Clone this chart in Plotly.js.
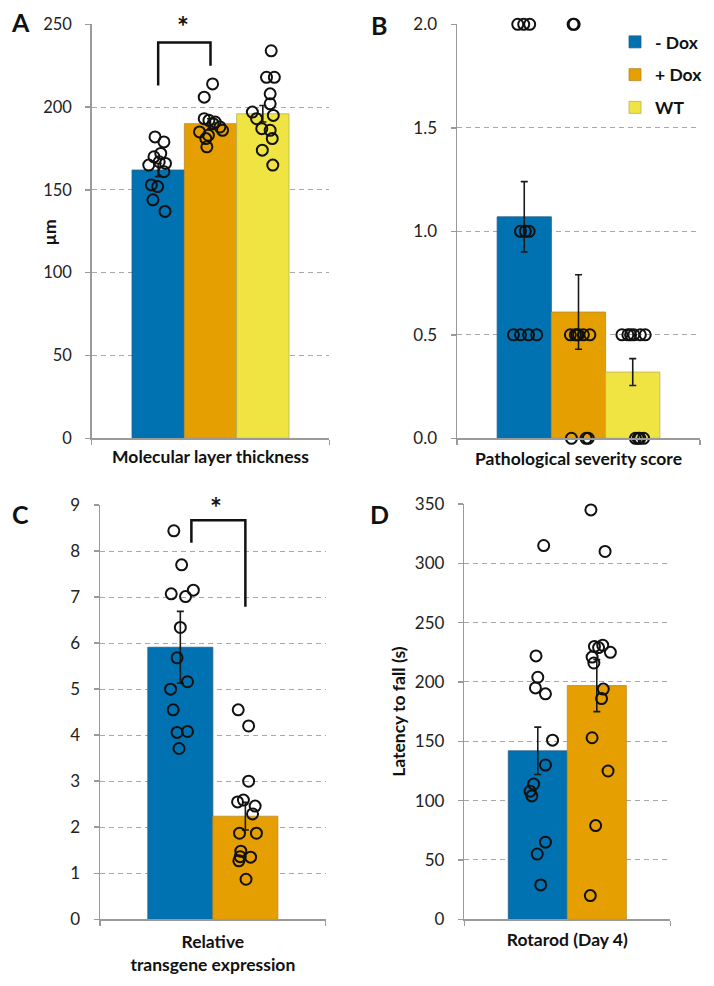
<!DOCTYPE html>
<html>
<head>
<meta charset="utf-8">
<script src="https://cdn.plot.ly/plotly-3.0.1.min.js"></script>
<style>html,body{margin:0;padding:0;background:#fff;}#chart{width:714px;height:986px;}</style>
</head>
<body>
<div id="chart"></div>
<script>
// ---------- DATA ----------
const groupNames = ['- Dox', '+ Dox', 'WT'];

// Panel A: Molecular layer thickness (µm)
const molMeans = [162, 190, 196];
const molErr = [4, 3, 5];
const molBlue = [182, 179, 172, 170, 167, 165, 166, 161, 153, 152, 144, 137];
const molBlueJit = [-0.06, 0.11, 0.05, -0.08, 0.02, -0.18, 0.14, 0.11, -0.13, -0.01, -0.10, 0.13];
const molOrange = [214, 206, 193, 192, 191, 190, 188, 186, 185, 183, 181, 176];
const molOrangeJit = [0.04, -0.12, -0.12, -0.03, 0.09, 0.05, 0.18, 0.23, -0.21, -0.04, -0.09, -0.07];
const molWT = [234, 218, 218, 208, 202, 197, 193, 195, 187, 186, 181, 174, 165];
const molWTJit = [0.16, 0.07, 0.22, 0.14, 0.14, -0.20, -0.12, 0.20, -0.02, 0.14, 0.18, -0.01, 0.19];
const molTicks = [0, 50, 100, 150, 200, 250];

// Panel B: Pathological severity score
const sevMeans = [1.07, 0.61, 0.32];
const sevErr = [0.17, 0.18, 0.065];
const sevBlue = [2, 2, 2, 1, 1, 1, 0.5, 0.5, 0.5, 0.5];
const sevBlueJit = [-0.12, -0.01, 0.10, -0.07, 0.02, 0.09, -0.20, -0.07, 0.08, 0.23];
const sevOrange = [2, 2, 0.5, 0.5, 0.5, 0.5, 0.5, 0.5, 0, 0, 0];
const sevOrangeJit = [-0.10, -0.08, -0.15, -0.06, -0.03, 0.00, 0.09, 0.21, -0.13, 0.14, 0.18];
const sevWT = [0.5, 0.5, 0.5, 0.5, 0.5, 0.5, 0, 0, 0, 0];
const sevWTJit = [-0.20, -0.09, -0.04, 0.02, 0.14, 0.23, 0.05, 0.10, 0.13, 0.20];
const sevTicks = [0, 0.5, 1.0, 1.5, 2.0];

// Panel C: Relative transgene expression
const exprMeans = [5.91, 2.24];
const exprErr = [0.78, 0.30];
const exprBlue = [8.44, 7.70, 7.07, 7.01, 7.15, 6.34, 5.68, 5.16, 5.00, 4.55, 4.06, 4.08, 3.71];
const exprBlueJit = [-0.10, 0.02, -0.14, 0.08, 0.20, 0.00, -0.05, 0.11, -0.15, -0.11, -0.05, 0.11, -0.02];
const exprOrange = [4.55, 4.20, 3.00, 2.55, 2.59, 2.46, 2.29, 1.87, 1.87, 1.48, 1.36, 1.35, 1.27, 0.87];
const exprOrangeJit = [-0.11, 0.05, 0.05, -0.12, -0.03, 0.15, 0.11, -0.09, 0.17, -0.07, -0.08, 0.08, -0.10, 0.01];
const exprTicks = [0, 1, 2, 3, 4, 5, 6, 7, 8, 9];

// Panel D: Rotarod (Day 4), latency to fall (s)
const rotMeans = [142, 197];
const rotErr = [20, 22];
const rotBlue = [315, 222, 204, 195, 190, 151, 130, 114, 108, 104, 65, 55, 29];
const rotBlueJit = [0.10, -0.03, 0.00, -0.04, 0.13, 0.25, 0.13, -0.07, -0.13, -0.10, 0.13, -0.01, 0.05];
const rotOrange = [345, 310, 231, 230, 229, 225, 221, 216, 194, 186, 153, 125, 79, 20];
const rotOrangeJit = [-0.10, 0.14, 0.10, -0.04, 0.03, 0.23, -0.08, -0.05, 0.11, 0.08, -0.08, 0.19, -0.02, -0.11];
const rotTicks = [0, 50, 100, 150, 200, 250, 300, 350];

// Significance brackets: [xLeft, yLeftEnd, yTop, xRight, yRightEnd]
const bracketA = [0, 213, 239, 1, 225];
const bracketC = [0.17, 8.18, 8.67, 1.0, 6.79];

// ---------- STYLE ----------
const FONT = 'Lato, "Open Sans", sans-serif';
const barColors = ['#0072B2', '#E69F00', '#F0E442'];
const barLines = ['#2a5d86', '#b98a2a', '#b8b060'];
const axisGray = '#9a9a9a';
const TITLE_SIZE = 17.5;

const px = v => v / 714;
const py = v => 1 - v / 986;

const traces = [];

function addPanel(xa, ya, means, err, dots, jits, showLegend) {
  means.forEach((m, i) => {
    traces.push({
      type: 'bar', x: [i], y: [m], width: [1], name: groupNames[i],
      legendgroup: groupNames[i], showlegend: showLegend,
      xaxis: xa, yaxis: ya,
      marker: {color: barColors[i], line: {color: barLines[i], width: 0.8}},
      error_y: {type: 'data', array: [err[i]], visible: true, color: '#1a1a1a', thickness: 1.6, width: 3.5},
      hoverinfo: 'y'
    });
  });
  dots.forEach((d, i) => {
    traces.push({
      type: 'scatter', mode: 'markers',
      x: d.map((v, j) => i + jits[i][j]), y: d,
      xaxis: xa, yaxis: ya, showlegend: false, cliponaxis: false,
      marker: {symbol: 'circle-open', size: 11, color: '#111', line: {width: 2, color: '#111'}},
      hoverinfo: 'y'
    });
  });
}

addPanel('x', 'y', molMeans, molErr, [molBlue, molOrange, molWT], [molBlueJit, molOrangeJit, molWTJit], false);
addPanel('x2', 'y2', sevMeans, sevErr, [sevBlue, sevOrange, sevWT], [sevBlueJit, sevOrangeJit, sevWTJit], true);
addPanel('x3', 'y3', exprMeans, exprErr, [exprBlue, exprOrange], [exprBlueJit, exprOrangeJit], false);
addPanel('x4', 'y4', rotMeans, rotErr, [rotBlue, rotOrange], [rotBlueJit, rotOrangeJit], false);

function xAxis(domain, range, title, anchor, standoff) {
  return {
    domain: domain, range: range, anchor: anchor, fixedrange: true,
    showgrid: false, zeroline: false, showline: true, linecolor: axisGray, linewidth: 1.5,
    tickmode: 'array', tickvals: range, ticks: 'outside', ticklen: 5, tickcolor: axisGray, tickwidth: 1.5,
    showticklabels: false,
    title: {text: title, font: {family: FONT, size: TITLE_SIZE, color: '#111', weight: 'bold'}, standoff: standoff}
  };
}
function yAxis(domain, range, ticks, title, anchor, fmt, size, standoff) {
  return {
    domain: domain, range: range, anchor: anchor, fixedrange: true,
    tickmode: 'array', tickvals: ticks, tickformat: fmt,
    showgrid: true, gridcolor: '#a8a8a8', griddash: '5px,4px', gridwidth: 1,
    zeroline: false, showline: true, linecolor: axisGray, linewidth: 1.5,
    ticks: 'outside', ticklen: 5, tickcolor: axisGray, tickwidth: 1.5,
    ticklabelstandoff: 10,
    tickfont: {family: FONT, size: size, color: '#222'},
    title: {text: title, font: {family: FONT, size: TITLE_SIZE, color: '#111', weight: 'bold'}, standoff: standoff}
  };
}

const bracketPath = b => `M ${b[0]},${b[1]} L ${b[0]},${b[2]} L ${b[3]},${b[2]} L ${b[3]},${b[4]}`;

function panelLabel(t, x, y) {
  return {text: '<b>' + t + '</b>', xref: 'paper', yref: 'paper', x: px(x), y: py(y),
          xanchor: 'center', yanchor: 'middle', showarrow: false,
          font: {family: FONT, size: 25, color: '#111'}};
}

const layout = {
  width: 714, height: 986,
  margin: {l: 0, r: 0, t: 0, b: 0},
  paper_bgcolor: '#fff', plot_bgcolor: '#fff',
  font: {family: FONT, color: '#111'},
  barmode: 'overlay',
  xaxis: xAxis([px(91.7), px(329.3)], [-1.27, 3.27], 'Molecular layer thickness', 'y', 7),
  yaxis: yAxis([py(438.3), py(24.3)], [0, 250], molTicks, '', 'x', '', 16.5, 0),
  xaxis2: xAxis([px(457), px(700)], [-1.24, 3.24], 'Pathological severity score', 'y2', 9),
  yaxis2: yAxis([py(438.3), py(24.3)], [0, 2], sevTicks, '', 'x2', '.1f', 17, 4),
  xaxis3: xAxis([px(100), px(325.7)], [-1.235, 2.235], 'Relative<br>transgene expression', 'y3', 11),
  yaxis3: yAxis([py(919.3), py(505)], [0, 9], exprTicks, '', 'x3', '', 17, 4),
  xaxis4: xAxis([px(464.3), px(670.3)], [-1.245, 2.245], 'Rotarod (Day 4)', 'y4', 9),
  yaxis4: yAxis([py(919.3), py(504)], [0, 350], rotTicks, 'Latency to fall (s)', 'x4', '', 17, 4),
  showlegend: true,
  legend: {
    x: px(615), y: py(24), xanchor: 'left', yanchor: 'top',
    font: {family: FONT, size: 17.5, color: '#111', weight: 'bold'},
    bgcolor: 'rgba(0,0,0,0)', borderwidth: 0, tracegroupgap: 7, itemwidth: 30,
    traceorder: 'grouped'
  },
  shapes: [
    {type: 'path', xref: 'x', yref: 'y', path: bracketPath(bracketA), line: {color: '#111', width: 2.5}},
    {type: 'path', xref: 'x3', yref: 'y3', path: bracketPath(bracketC), line: {color: '#111', width: 2.5}}
  ],
  annotations: [
    panelLabel('A', 20, 22),
    panelLabel('B', 379, 25),
    panelLabel('C', 20, 514),
    panelLabel('D', 379, 514),
    // y-axis title of panel A (sits closer to the axis than Plotly's title standoff allows)
    {text: '<b>µm</b>', xref: 'paper', yref: 'paper', x: px(48.5), y: py(232), textangle: -90,
     xanchor: 'center', yanchor: 'middle', showarrow: false, font: {family: FONT, size: TITLE_SIZE, color: '#111'}},
    {text: '<b>*</b>', xref: 'x', yref: 'y', x: 0.48, y: 249, showarrow: false, font: {family: FONT, size: 28, color: '#111'}},
    {text: '<b>*</b>', xref: 'x3', yref: 'y3', x: 0.55, y: 8.95, showarrow: false, font: {family: FONT, size: 28, color: '#111'}}
  ]
};

Plotly.newPlot('chart', traces, layout, {displayModeBar: false, staticPlot: true});
</script>
</body>
</html>
